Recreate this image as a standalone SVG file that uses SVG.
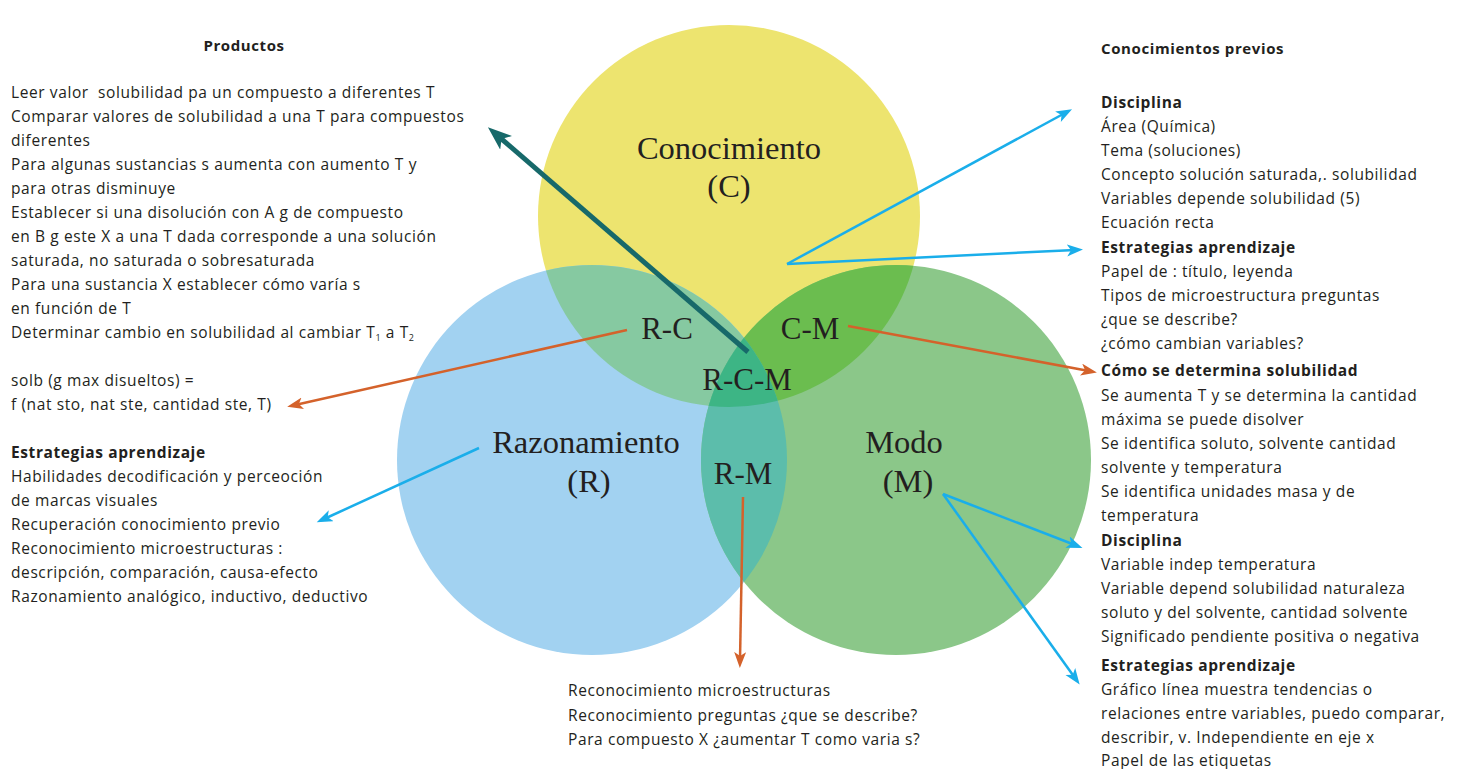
<svg xmlns="http://www.w3.org/2000/svg" width="1460" height="769" viewBox="0 0 1460 769">
  <style>
    .txt { font-family: "Open Sans", "Liberation Sans", sans-serif; font-size: 15.5px; letter-spacing: 0.6px; fill: #231f20; }
    .hd { font-family: "Open Sans", "Liberation Sans", sans-serif; font-size: 15.5px; letter-spacing: 0.6px; font-weight: 700; fill: #231f20; }
    .ttl { font-size: 15px; }
    .lbl { font-family: "Liberation Serif", "DejaVu Serif", serif; fill: #231f20; text-anchor: middle; }
    .big { font-size: 32.5px; }
    .mid { font-size: 31px; }
    .con { fill: none; stroke-linecap: butt; }
    .teal { stroke: #17696a; stroke-width: 5; }
    .orange { stroke: #d4622b; stroke-width: 2.5; }
    .blue { stroke: #1aaeea; stroke-width: 2.5; }
  </style>
  <defs>
    <clipPath id="clipC"><circle cx="729" cy="216" r="191"/></clipPath>
    <clipPath id="clipR"><circle cx="592" cy="460" r="195"/></clipPath>
    <marker id="headTeal" markerUnits="userSpaceOnUse" markerWidth="26" markerHeight="20" refX="12" refY="9" orient="auto">
      <path d="M0,0 L24,9 L0,18 L6,9 Z" fill="#17696a"/>
    </marker>
    <marker id="headOrange" markerUnits="userSpaceOnUse" markerWidth="18" markerHeight="14" refX="8" refY="6" orient="auto">
      <path d="M0,0 L16,6 L0,12 L4,6 Z" fill="#d4622b"/>
    </marker>
    <marker id="headBlue" markerUnits="userSpaceOnUse" markerWidth="18" markerHeight="14" refX="8" refY="6" orient="auto">
      <path d="M0,0 L16,6 L0,12 L4,6 Z" fill="#1aaeea"/>
    </marker>
  </defs>

  <rect width="1460" height="769" fill="#ffffff"/>

  <!-- Venn circles -->
  <g id="circle-C"><circle cx="729" cy="216" r="191" fill="#ede46f"/></g>
  <g id="circle-R"><circle cx="592" cy="460" r="195" fill="#a2d2f1"/></g>
  <g id="circle-M"><circle cx="896" cy="460" r="195" fill="#8bc789"/></g>

  <!-- pairwise and triple overlaps -->
  <g id="overlap-RC"><circle cx="592" cy="460" r="195" fill="#86c9a1" clip-path="url(#clipC)"/></g>
  <g id="overlap-CM"><circle cx="896" cy="460" r="195" fill="#6bbd4f" clip-path="url(#clipC)"/></g>
  <g id="overlap-RM"><circle cx="896" cy="460" r="195" fill="#5cbdab" clip-path="url(#clipR)"/></g>
  <g id="overlap-RCM" clip-path="url(#clipC)"><circle cx="896" cy="460" r="195" fill="#3db585" clip-path="url(#clipR)"/></g>

  <!-- connectors -->
  <g id="connectors">
    <line class="con teal" x1="748" y1="352" x2="497" y2="135" marker-end="url(#headTeal)"/>
    <line class="con orange" x1="627" y1="330" x2="295" y2="405" marker-end="url(#headOrange)"/>
    <line class="con orange" x1="848" y1="326" x2="1089" y2="371" marker-end="url(#headOrange)"/>
    <line class="con orange" x1="743" y1="497" x2="740" y2="660" marker-end="url(#headOrange)"/>
    <line class="con blue" x1="787" y1="264" x2="1065" y2="113" marker-end="url(#headBlue)"/>
    <line class="con blue" x1="787" y1="264" x2="1075" y2="250" marker-end="url(#headBlue)"/>
    <line class="con blue" x1="479" y1="448" x2="324" y2="519" marker-end="url(#headBlue)"/>
    <line class="con blue" x1="943" y1="494" x2="1075" y2="545" marker-end="url(#headBlue)"/>
    <line class="con blue" x1="943" y1="494" x2="1075" y2="678" marker-end="url(#headBlue)"/>
  </g>

  <!-- circle and region labels -->
  <g id="label-C">
    <text class="lbl big" x="729" y="159">Conocimiento</text>
    <text class="lbl big" x="729" y="197">(C)</text>
  </g>
  <g id="label-R">
    <text class="lbl big" x="586" y="453">Razonamiento</text>
    <text class="lbl big" x="589" y="492">(R)</text>
  </g>
  <g id="label-M">
    <text class="lbl big" x="904" y="453">Modo</text>
    <text class="lbl big" x="908" y="492">(M)</text>
  </g>
  <g id="label-RC"><text class="lbl mid" x="667" y="339">R-C</text></g>
  <g id="label-CM"><text class="lbl mid" x="810" y="339">C-M</text></g>
  <g id="label-RCM"><text class="lbl mid" x="747" y="390">R-C-M</text></g>
  <g id="label-RM"><text class="lbl mid" x="743" y="484">R-M</text></g>

  <!-- Productos column -->
  <g id="productos">
    <text class="hd ttl" x="244" y="51" text-anchor="middle">Productos</text>
    <text class="txt" x="11" y="98" xml:space="preserve">Leer valor  solubilidad pa un compuesto a diferentes T</text>
    <text class="txt" x="11" y="122">Comparar valores de solubilidad a una T para compuestos</text>
    <text class="txt" x="11" y="146">diferentes</text>
    <text class="txt" x="11" y="170">Para algunas sustancias s aumenta con aumento T y</text>
    <text class="txt" x="11" y="194">para otras disminuye</text>
    <text class="txt" x="11" y="218">Establecer si una disolución con A g de compuesto</text>
    <text class="txt" x="11" y="242">en B g este X a una T dada corresponde a una solución</text>
    <text class="txt" x="11" y="266">saturada, no saturada o sobresaturada</text>
    <text class="txt" x="11" y="290">Para una sustancia X establecer cómo varía s</text>
    <text class="txt" x="11" y="314">en función de T</text>
    <text class="txt" x="11" y="338">Determinar cambio en solubilidad al cambiar T<tspan font-size="9" dy="3">1</tspan><tspan dy="-3"> a T</tspan><tspan font-size="9" dy="3">2</tspan></text>
    <text class="txt" x="11" y="386">solb (g max disueltos) =</text>
    <text class="txt" x="11" y="410">f (nat sto, nat ste, cantidad ste, T)</text>
  </g>

  <!-- Estrategias (Razonamiento) -->
  <g id="estrategias-r">
    <text class="hd" x="11" y="458">Estrategias aprendizaje</text>
    <text class="txt" x="11" y="482">Habilidades decodificación y perceoción</text>
    <text class="txt" x="11" y="506">de marcas visuales</text>
    <text class="txt" x="11" y="530">Recuperación conocimiento previo</text>
    <text class="txt" x="11" y="554">Reconocimiento microestructuras :</text>
    <text class="txt" x="11" y="578">descripción, comparación, causa-efecto</text>
    <text class="txt" x="11" y="602">Razonamiento analógico, inductivo, deductivo</text>
  </g>

  <!-- R-M text -->
  <g id="rm-text">
    <text class="txt" x="568" y="696">Reconocimiento microestructuras</text>
    <text class="txt" x="568" y="721">Reconocimiento preguntas ¿que se describe?</text>
    <text class="txt" x="568" y="745">Para compuesto X ¿aumentar T como varia s?</text>
  </g>

  <!-- Conocimientos previos column -->
  <g id="conocimientos">
    <text class="hd ttl" x="1101" y="54">Conocimientos previos</text>
    <text class="hd" x="1101" y="108">Disciplina</text>
    <text class="txt" x="1101" y="132">Área (Química)</text>
    <text class="txt" x="1101" y="156">Tema (soluciones)</text>
    <text class="txt" x="1101" y="180">Concepto solución saturada,. solubilidad</text>
    <text class="txt" x="1101" y="204">Variables depende solubilidad (5)</text>
    <text class="txt" x="1101" y="228">Ecuación recta</text>
    <text class="hd" x="1101" y="253">Estrategias aprendizaje</text>
    <text class="txt" x="1101" y="277">Papel de : título, leyenda</text>
    <text class="txt" x="1101" y="301">Tipos de microestructura preguntas</text>
    <text class="txt" x="1101" y="325">¿que se describe?</text>
    <text class="txt" x="1101" y="349">¿cómo cambian variables?</text>
  </g>
  <g id="como-solubilidad">
    <text class="hd" x="1101" y="376">Cómo se determina solubilidad</text>
    <text class="txt" x="1101" y="401">Se aumenta T y se determina la cantidad</text>
    <text class="txt" x="1101" y="425">máxima se puede disolver</text>
    <text class="txt" x="1101" y="449">Se identifica soluto, solvente cantidad</text>
    <text class="txt" x="1101" y="473">solvente y temperatura</text>
    <text class="txt" x="1101" y="497">Se identifica unidades masa y de</text>
    <text class="txt" x="1101" y="521">temperatura</text>
  </g>
  <g id="disciplina-m">
    <text class="hd" x="1101" y="546">Disciplina</text>
    <text class="txt" x="1101" y="570">Variable indep temperatura</text>
    <text class="txt" x="1101" y="594">Variable depend solubilidad naturaleza</text>
    <text class="txt" x="1101" y="618">soluto y del solvente, cantidad solvente</text>
    <text class="txt" x="1101" y="642">Significado pendiente positiva o negativa</text>
  </g>
  <g id="estrategias-m">
    <text class="hd" x="1101" y="671">Estrategias aprendizaje</text>
    <text class="txt" x="1101" y="695">Gráfico línea muestra tendencias o</text>
    <text class="txt" x="1101" y="719">relaciones entre variables, puedo comparar,</text>
    <text class="txt" x="1101" y="743">describir, v. Independiente en eje x</text>
    <text class="txt" x="1101" y="766">Papel de las etiquetas</text>
  </g>
</svg>
